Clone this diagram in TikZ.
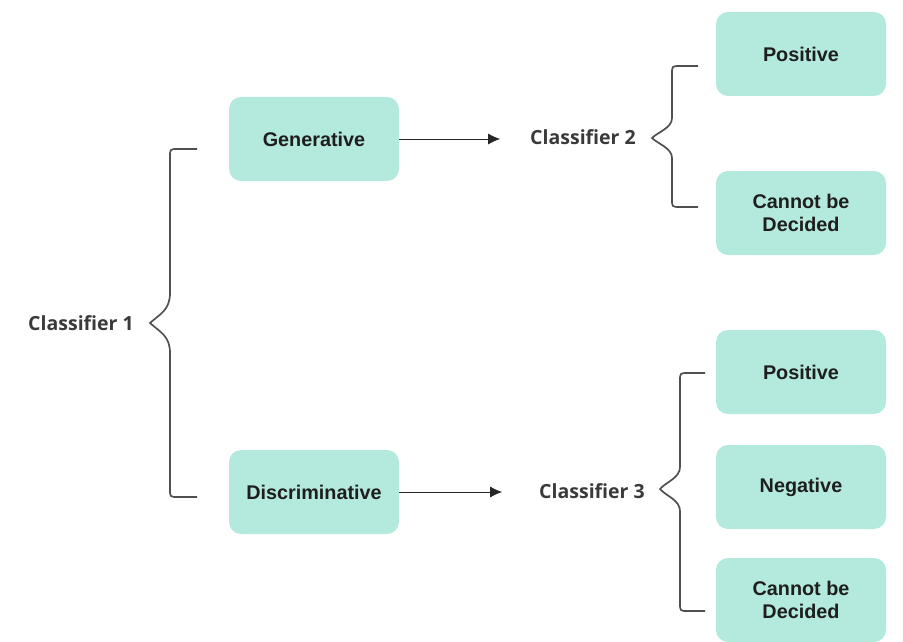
\documentclass[tikz,border=0pt]{standalone}
\usepackage{fontspec}
\setmainfont{Liberation Sans}
\newfontfamily\clffont{Open Sans}
\usepackage{xcolor}
\usetikzlibrary{arrows.meta}
\definecolor{boxgreen}{HTML}{B3EADD}
\definecolor{textdark}{HTML}{1E1E1E}
\definecolor{labelgray}{HTML}{3A3A3A}
\definecolor{linegray}{HTML}{505050}

\begin{document}
\begin{tikzpicture}[
    % one unit = one pixel of the reference, y grows downwards
    x=1pt, y=-1pt,
    % green boxes
    choice/.style={fill=boxgreen, rounded corners=12pt, minimum width=170pt,
        minimum height=84pt, align=center, text=textdark,
        font=\fontsize{19.8}{23}\selectfont\bfseries},
    % classifier labels
    clf/.style={inner sep=2pt, text=labelgray,
        font=\clffont\fontsize{19.5}{23}\selectfont\bfseries},
    % arrows
    flow/.style={draw=black!85, line width=1pt, -{Latex[length=12pt,width=11pt]}},
    % braces
    brace/.style={draw=linegray, line width=1.7pt}
]
\useasboundingbox (0,0) rectangle (903,642);

% Classifier 1 and its two branches
\node[clf] (c1) at (81,323) {Classifier 1};
\node[choice] (gen) at (314,139) {Generative};
\node[choice] (dis) at (314,492) {Discriminative};

% Classifier 2 (generative side)
\node[clf] (c2) at (583,137) {Classifier 2};
\node[choice] (pos1) at (801,54) {Positive};
\node[choice] (und1) at (801,213) {Cannot be\\Decided};

% Classifier 3 (discriminative side)
\node[clf] (c3) at (592,491) {Classifier 3};
\node[choice] (pos2) at (801,372) {Positive};
\node[choice] (neg2) at (801,487) {Negative};
\node[choice] (und2) at (801,600) {Cannot be\\Decided};

% arrows
\draw[flow] (gen.east) -- ++(101,0);
\draw[flow] (dis.east) -- ++(103,0);

% braces
\draw[brace] (197,149) -- (178,149) .. controls (170,149) .. (170,157) -- (170,293)
    .. controls (170,310) and (160,314) .. (150,323)
    .. controls (160,332) and (170,336) .. (170,353) -- (170,489)
    .. controls (170,497) .. (178,497) -- (197,497);
\draw[brace] (698,66) -- (680,66) .. controls (672,66) .. (672,74) -- (672,118)
    .. controls (672,128) and (658,132) .. (652,138)
    .. controls (658,144) and (672,148) .. (672,158) -- (672,199)
    .. controls (672,207) .. (680,207) -- (698,207);
\draw[brace] (705,373) -- (688,373) .. controls (680,373) .. (680,381) -- (680,467)
    .. controls (680,478) and (666,482) .. (660,489)
    .. controls (666,496) and (680,500) .. (680,511) -- (680,603)
    .. controls (680,611) .. (688,611) -- (705,611);

\end{tikzpicture}
\end{document}
